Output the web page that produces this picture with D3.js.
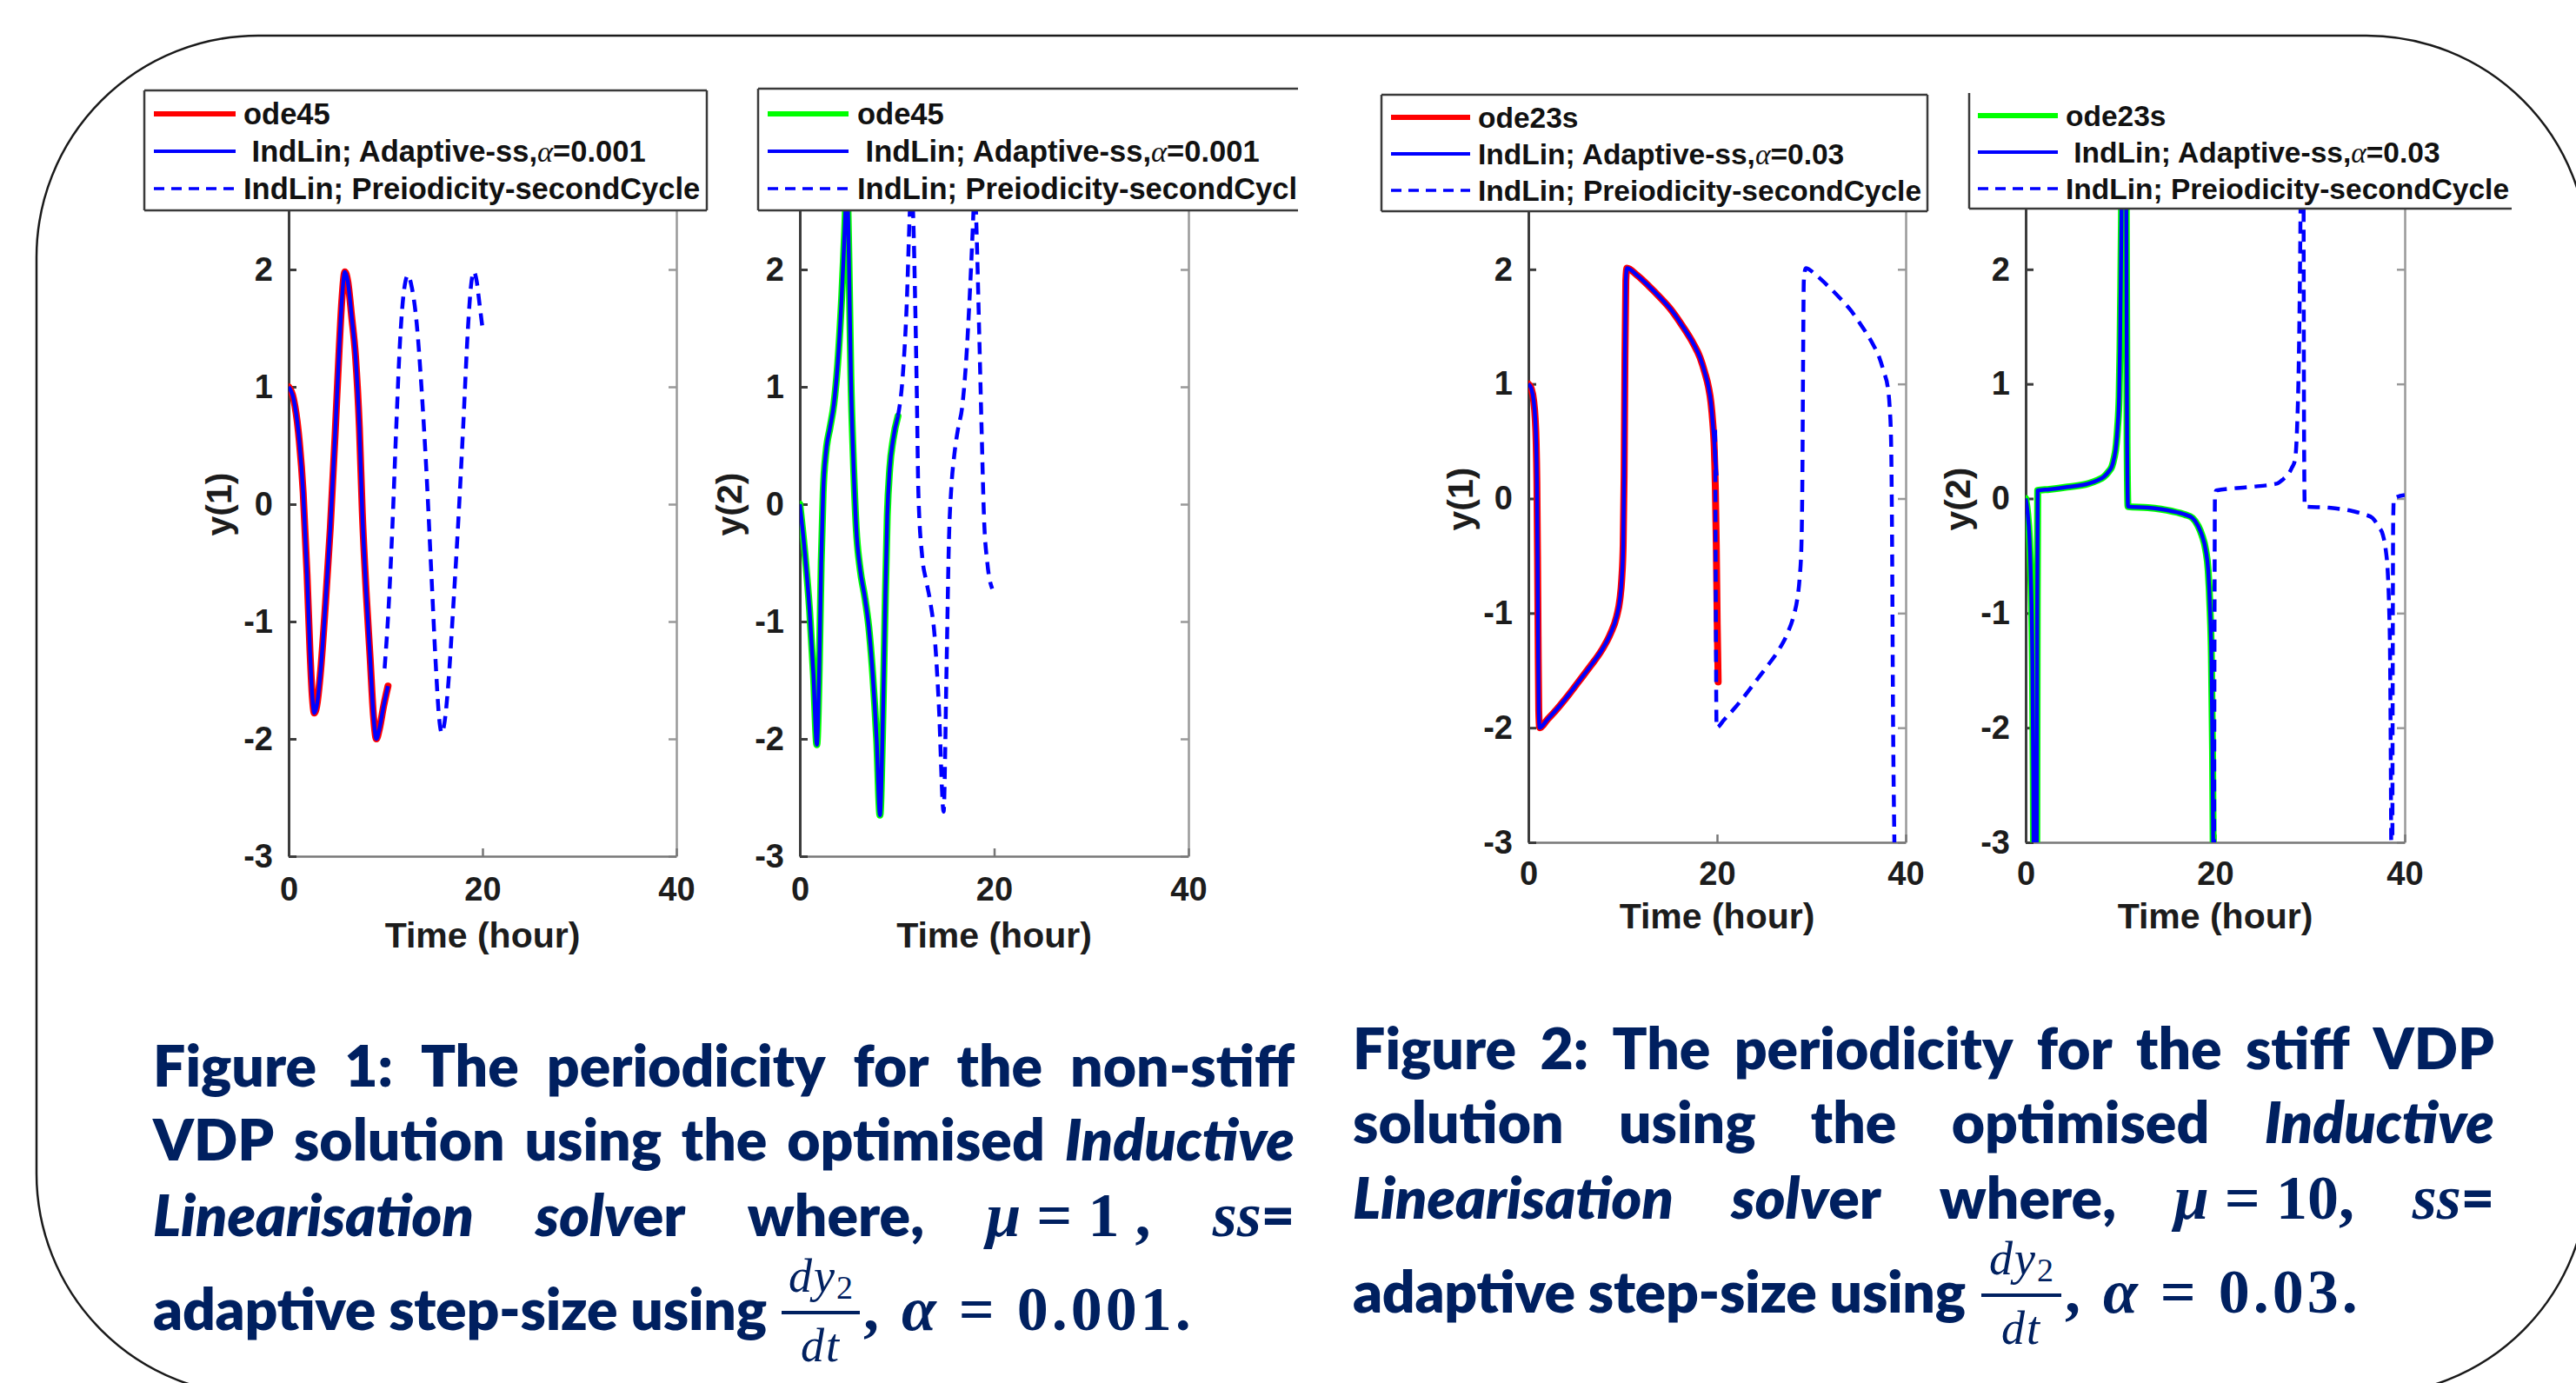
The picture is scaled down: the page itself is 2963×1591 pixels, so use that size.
<!DOCTYPE html>
<html><head><meta charset="utf-8">
<script src="https://cdn.jsdelivr.net/npm/d3@7"></script>
<style>html,body{margin:0;padding:0;background:#fff;overflow:hidden}</style>
</head><body>
<svg id="fig" width="2963" height="1591" xmlns="http://www.w3.org/2000/svg"></svg>
<script>
// ---------------- DATA ----------------
const xTicks = [0, 20, 40];
const yTicks = [-3, -2, -1, 0, 1, 2, 3];
const yTickLabels = ["-3", "-2", "-1", "0", "1", "2", ""]; // the "3" label sits under the legend
const xLabel = "Time (hour)";

// Figure 1, left panel: y(1), mu = 1  [time, value]
const fig1Y1Ode45 = [[0,1.0],[0.5,0.9],[1.0,0.62],[1.5,0.1],[1.9,-0.6],[2.2,-1.25],[2.45,-1.65],[2.65,-1.78],[2.9,-1.72],[3.3,-1.42],[3.8,-0.85],[4.3,-0.2],[4.8,0.6],[5.2,1.3],[5.5,1.75],[5.8,1.98],[6.1,1.9],[6.5,1.6],[6.9,1.26],[7.3,0.65],[7.6,-0.07],[8.0,-0.75],[8.4,-1.3],[8.75,-1.8],[9.05,-2.0],[9.35,-1.92],[9.8,-1.72],[10.25,-1.55]];
const fig1Y1IndLin = [[0,1.0],[0.5,0.9],[1.0,0.62],[1.5,0.1],[1.9,-0.6],[2.2,-1.25],[2.45,-1.65],[2.65,-1.78],[2.9,-1.72],[3.3,-1.42],[3.8,-0.85],[4.3,-0.2],[4.8,0.6],[5.2,1.3],[5.5,1.75],[5.8,1.98],[6.1,1.9],[6.5,1.6],[6.9,1.26],[7.3,0.65],[7.6,-0.07],[8.0,-0.75],[8.4,-1.3],[8.75,-1.8],[9.05,-2.0],[9.35,-1.92],[9.8,-1.72],[10.25,-1.55]];
const fig1Y1Second = [[9.9,-1.4],[10.3,-0.9],[10.7,-0.2],[11.1,0.65],[11.5,1.4],[11.9,1.82],[12.3,1.95],[12.7,1.85],[13.2,1.55],[13.7,1.0],[14.2,0.3],[14.7,-0.55],[15.2,-1.4],[15.5,-1.8],[15.8,-1.95],[16.1,-1.85],[16.5,-1.5],[17.0,-0.85],[17.5,-0.15],[18.0,0.65],[18.5,1.5],[18.8,1.85],[19.1,1.98],[19.4,1.9],[19.7,1.7],[20.0,1.5]];

// Figure 1, right panel: y(2), mu = 1
const fig1Y2Ode45 = [[0,0],[0.5,-0.4],[1.0,-0.9],[1.4,-1.45],[1.75,-2.05],[2.0,-1.4],[2.2,-0.5],[2.4,0.1],[2.7,0.45],[3.1,0.65],[3.5,0.85],[3.9,1.2],[4.3,1.75],[4.6,2.3],[4.85,2.75],[5.05,2.1],[5.25,1.1],[5.5,0.4],[5.8,-0.2],[6.2,-0.55],[6.7,-0.8],[7.1,-1.05],[7.5,-1.45],[7.9,-2.0],[8.25,-2.65],[8.5,-2.0],[8.75,-1.0],[9.0,-0.1],[9.25,0.3],[9.6,0.55],[10.1,0.75]];
const fig1Y2IndLin = [[0,0],[0.5,-0.4],[1.0,-0.9],[1.4,-1.45],[1.75,-2.05],[2.0,-1.4],[2.2,-0.5],[2.4,0.1],[2.7,0.45],[3.1,0.65],[3.5,0.85],[3.9,1.2],[4.3,1.75],[4.6,2.3],[4.85,2.75],[5.05,2.1],[5.25,1.1],[5.5,0.4],[5.8,-0.2],[6.2,-0.55],[6.7,-0.8],[7.1,-1.05],[7.5,-1.45],[7.9,-2.0],[8.25,-2.65],[8.5,-2.0],[8.75,-1.0],[9.0,-0.1],[9.25,0.3],[9.6,0.55],[10.1,0.75]];
const fig1Y2Second = [[10.1,0.75],[10.6,1.1],[11.0,1.7],[11.3,2.45],[11.45,2.75],[11.65,2.5],[11.9,1.6],[12.05,0.9],[12.2,0.1],[12.6,-0.45],[13.0,-0.65],[13.4,-0.82],[13.9,-1.15],[14.3,-1.7],[14.8,-2.62],[15.1,-1.4],[15.35,-0.3],[15.6,0.15],[15.9,0.42],[16.3,0.65],[16.7,0.82],[17.1,1.2],[17.5,1.8],[17.85,2.45],[18.0,2.75],[18.2,2.3],[18.45,1.5],[18.7,0.67],[18.95,-0.1],[19.3,-0.5],[19.8,-0.72]];

// Figure 2, left panel: y(1), mu = 10
const fig2Y1Ode23s = [[0,1.0],[0.3,0.96],[0.55,0.86],[0.72,0.7],[0.82,0.5],[0.9,0.15],[0.97,-0.5],[1.03,-1.2],[1.1,-1.85],[1.2,-2.0],[2.0,-1.93],[3.0,-1.84],[4.2,-1.72],[5.4,-1.59],[6.6,-1.46],[7.8,-1.32],[8.7,-1.18],[9.35,-1.03],[9.7,-0.88],[9.9,-0.7],[10.05,-0.4],[10.15,0.2],[10.23,1.14],[10.33,1.9],[10.45,2.01],[11.5,1.95],[12.7,1.86],[13.9,1.76],[15.1,1.65],[16.3,1.51],[17.5,1.35],[18.2,1.23],[18.7,1.1],[19.1,0.97],[19.35,0.84],[19.55,0.66],[19.7,0.45],[19.82,0.1],[19.92,-0.4],[20.02,-1.1],[20.12,-1.6]];
const fig2Y1IndLin = [[0,1.0],[0.3,0.96],[0.55,0.86],[0.72,0.7],[0.82,0.5],[0.9,0.15],[0.97,-0.5],[1.03,-1.2],[1.1,-1.85],[1.2,-2.0],[2.0,-1.93],[3.0,-1.84],[4.2,-1.72],[5.4,-1.59],[6.6,-1.46],[7.8,-1.32],[8.7,-1.18],[9.35,-1.03],[9.7,-0.88],[9.9,-0.7],[10.05,-0.4],[10.15,0.2],[10.23,1.14],[10.33,1.9],[10.45,2.01],[11.5,1.95],[12.7,1.86],[13.9,1.76],[15.1,1.65],[16.3,1.51],[17.5,1.35],[18.2,1.23],[18.7,1.1],[19.1,0.97],[19.35,0.84],[19.55,0.66],[19.7,0.5],[19.85,0.3],[19.95,0.2]];
const fig2Y1Second = [[19.8,0.6],[19.85,-0.5],[19.9,-1.5],[19.95,-2.0],[20.75,-1.93],[21.75,-1.84],[22.95,-1.72],[24.15,-1.59],[25.35,-1.46],[26.55,-1.32],[27.45,-1.18],[28.1,-1.03],[28.5,-0.88],[28.75,-0.7],[28.95,-0.4],[29.05,0.2],[29.12,1.14],[29.2,1.9],[29.4,2.01],[30.5,1.95],[31.7,1.86],[32.9,1.76],[34.1,1.65],[35.3,1.51],[36.5,1.35],[37.2,1.23],[37.7,1.1],[38.1,0.97],[38.3,0.8],[38.45,0.5],[38.55,-0.3],[38.65,-1.8],[38.8,-3.0],[38.85,-3.3]];

// Figure 2, right panel: y(2), mu = 10
const fig2Y2Ode23s = [[0,0],[0.2,-0.12],[0.4,-0.35],[0.55,-0.7],[0.7,-1.35],[0.8,-2.4],[0.87,-4],[0.95,-8],[1.05,-8],[1.15,-4],[1.22,-1],[1.27,0.07],[2.5,0.08],[4.4,0.1],[6.6,0.13],[7.6,0.16],[8.25,0.19],[8.8,0.24],[9.1,0.28],[9.35,0.36],[9.5,0.43],[9.7,0.62],[9.86,0.89],[9.95,1.3],[10.0,1.65],[10.1,2.4],[10.2,4],[10.3,8],[10.45,8],[10.6,3],[10.7,0.5],[10.8,-0.07],[12.9,-0.08],[15.4,-0.11],[16.8,-0.14],[17.6,-0.17],[18.2,-0.24],[18.6,-0.32],[19.0,-0.45],[19.26,-0.63],[19.45,-0.95],[19.6,-1.38],[19.72,-2.2],[19.8,-3.2],[19.9,-5]];
const fig2Y2IndLin = [[0,0],[0.2,-0.12],[0.4,-0.35],[0.55,-0.7],[0.7,-1.35],[0.8,-2.4],[0.87,-4],[0.95,-8],[1.05,-8],[1.15,-4],[1.22,-1],[1.27,0.07],[2.5,0.08],[4.4,0.1],[6.6,0.13],[7.6,0.16],[8.25,0.19],[8.8,0.24],[9.1,0.28],[9.35,0.36],[9.5,0.43],[9.7,0.62],[9.86,0.89],[9.95,1.3],[10.0,1.65],[10.1,2.4],[10.2,4],[10.3,8],[10.45,8],[10.6,3],[10.7,0.5],[10.8,-0.07],[12.9,-0.08],[15.4,-0.11],[16.8,-0.14],[17.6,-0.17],[18.2,-0.24],[18.6,-0.32],[19.0,-0.45],[19.26,-0.63],[19.45,-0.95],[19.6,-1.38],[19.72,-2.2],[19.8,-3.2],[19.9,-5]];
const fig2Y2Second = [[19.85,-5],[19.92,-1.5],[19.97,0.0],[20.1,0.07],[23.5,0.1],[26.5,0.13],[27.2,0.17],[27.7,0.21],[28.1,0.27],[28.4,0.33],[28.55,0.45],[28.65,0.64],[28.8,1.1],[28.9,1.65],[29.0,2.5],[29.1,4],[29.2,8],[29.3,4],[29.38,0.5],[29.45,-0.07],[32.0,-0.08],[34.5,-0.11],[35.8,-0.14],[36.6,-0.17],[37.2,-0.24],[37.7,-0.32],[38.0,-0.45],[38.2,-0.63],[38.35,-0.95],[38.45,-1.38],[38.52,-2.2],[38.58,-3.2],[38.65,-5],[38.72,-2],[38.78,-0.2],[38.85,0.0],[40.0,0.03]];

// Legend texts
const legendFig1 = [[["ode45","n"]], [["\u00a0IndLin; Adaptive-ss,","n"],["\u03b1","g"],["=0.001","n"]], [["IndLin; Preiodicity-secondCycle","n"]]];
const legendFig1b = [[["ode45","n"]], [["\u00a0IndLin; Adaptive-ss,","n"],["\u03b1","g"],["=0.001","n"]], [["IndLin; Preiodicity-secondCycle","n"]]];
const legendFig2 = [[["ode23s","n"]], [["IndLin; Adaptive-ss,","n"],["\u03b1","g"],["=0.03","n"]], [["IndLin; Preiodicity-secondCycle","n"]]];
const legendFig2b = [[["ode23s","n"]], [["\u00a0IndLin; Adaptive-ss,","n"],["\u03b1","g"],["=0.03","n"]], [["IndLin; Preiodicity-secondCycle","n"]]];

// Caption texts
const caption1Lines = [
  [[["Figure","b"]],[["1:","b"]],[["The","b"]],[["periodicity","b"]],[["for","b"]],[["the","b"]],[["non-stiff","b"]]],
  [[["VDP","b"]],[["solution","b"]],[["using","b"]],[["the","b"]],[["optimised","b"]],[["Inductive","bi"]]],
  [[["Linearisation","bi"]],[["solv","bi"],["er","b"]],[["where,","b"]],[["\u03bc","mi"],[" = 1 ,","m"]],[["ss","mi"],["=","b"]]]
];
const caption1Tail = {lead:"adaptive step-size using", num:"dy", sub:"2", den:"dt", after:[[",","m"],[" \u03b1","mi"],[" = 0.001.","m"]]};
const caption2Lines = [
  [[["Figure","b"]],[["2:","b"]],[["The","b"]],[["periodicity","b"]],[["for","b"]],[["the","b"]],[["stiff","b"]],[["VDP","b"]]],
  [[["solution","b"]],[["using","b"]],[["the","b"]],[["optimised","b"]],[["Inductive","bi"]]],
  [[["Linearisation","bi"]],[["solv","bi"],["er","b"]],[["where,","b"]],[["\u03bc","mi"],[" = 10,","m"]],[["ss","mi"],["=","b"]]]
];
const caption2Tail = {lead:"adaptive step-size using", num:"dy", sub:"2", den:"dt", after:[[",","m"],[" \u03b1","mi"],[" = 0.03.","m"]]};

// ---------------- LAYOUT / STYLE ----------------
const RED = "#ff0000", BLUE = "#0000ff", GREEN = "#00ff00", NAVY = "#002060";
const AXF = "'Liberation Sans', Arial, Helvetica, sans-serif";
const SERIF = "'Liberation Serif', 'DejaVu Serif', serif";
const CAPF = "Lato, 'Open Sans', 'Noto Sans', sans-serif";
const CAPW = 800;

const panels = [
  {xr:[332,778], yr:[985,175], ref:fig1Y1Ode45, refColor:RED, ind:fig1Y1IndLin, sec:fig1Y1Second, ylab:"y(1)", ylabX:252, ylabY:580,
   xTickPad:24, xlabBase:1090, legend:legendFig1, lg:{x:166,y:104,w:647,h:138,borders:"tlbr",clipR:null,rowTop:27,rowGap:43,l0:11,l1:105,tx:114,fs:34.5}},
  {xr:[920,1367], yr:[985,175], ref:fig1Y2Ode45, refColor:GREEN, ind:fig1Y2IndLin, sec:fig1Y2Second, ylab:"y(2)", ylabX:839, ylabY:580,
   xTickPad:24, xlabBase:1090, legend:legendFig1b, lg:{x:872,y:102,w:660,h:140,borders:"tlb",clipR:1493,rowTop:29,rowGap:43,l0:11,l1:104,tx:114,fs:34.5}},
  {xr:[1758,2192], yr:[969,178], ref:fig2Y1Ode23s, refColor:RED, ind:fig2Y1IndLin, sec:fig2Y1Second, ylab:"y(1)", ylabX:1680, ylabY:574,
   xTickPad:22, xlabBase:1068, legend:legendFig2, lg:{x:1589,y:109,w:628,h:134,borders:"tlbr",clipR:null,rowTop:26,rowGap:42,l0:11,l1:102,tx:111,fs:33.5}},
  {xr:[2330,2766], yr:[969,178], ref:fig2Y2Ode23s, refColor:GREEN, ind:fig2Y2IndLin, sec:fig2Y2Second, ylab:"y(2)", ylabX:2252, ylabY:574,
   xTickPad:22, xlabBase:1068, legend:legendFig2b, lg:{x:2265,y:107,w:624,h:133,borders:"lb",clipR:null,rowTop:26,rowGap:42,l0:10,l1:102,tx:111,fs:33.5}}
];

const svg = d3.select("#fig");
const defs = svg.append("defs");
svg.append("rect").attr("width",2963).attr("height",1591).attr("fill","#fff");
svg.append("rect").attr("x",42).attr("y",41).attr("width",2935).attr("height",1564)
  .attr("rx",255).attr("ry",255).attr("fill","none").attr("stroke","#1a1a1a").attr("stroke-width",2.5);

panels.forEach((p, i) => {
  const x = d3.scaleLinear().domain([0,40]).range(p.xr);
  const y = d3.scaleLinear().domain([-3,3]).range(p.yr);
  const g = svg.append("g");
  const cid = "clip" + i;
  defs.append("clipPath").attr("id", cid).append("rect")
    .attr("x", p.xr[0]).attr("y", p.yr[1]).attr("width", p.xr[1]-p.xr[0]).attr("height", p.yr[0]-p.yr[1]);

  const styleAxis = (sel, color, w) => {
    sel.select(".domain").attr("stroke", color).attr("stroke-width", w);
    sel.selectAll(".tick line").attr("stroke", color).attr("stroke-width", w);
    sel.selectAll(".tick text").attr("fill","#1c1c1c").attr("font-family",AXF).attr("font-weight","bold").attr("font-size",38);
  };
  const yFmt = d => yTickLabels[yTicks.indexOf(d)];
  g.append("g").attr("transform",`translate(0,${p.yr[1]})`)
    .call(d3.axisTop(x).tickValues(xTicks).tickSizeInner(-9).tickSizeOuter(0).tickFormat(""))
    .call(s => styleAxis(s, "#888", 2.5));
  g.append("g").attr("transform",`translate(${p.xr[1]},0)`)
    .call(d3.axisRight(y).tickValues(yTicks).tickSizeInner(-9).tickSizeOuter(0).tickFormat(""))
    .call(s => styleAxis(s, "#999", 2.5));
  g.append("g").attr("transform",`translate(0,${p.yr[0]})`)
    .call(d3.axisBottom(x).tickValues(xTicks).tickSizeInner(-9).tickSizeOuter(0).tickPadding(p.xTickPad).tickFormat(d => String(d)))
    .call(s => styleAxis(s, "#777", 2.5));
  g.append("g").attr("transform",`translate(${p.xr[0]},0)`)
    .call(d3.axisLeft(y).tickValues(yTicks).tickSizeInner(-9).tickSizeOuter(0).tickPadding(18).tickFormat(yFmt))
    .call(s => styleAxis(s, "#3c3c3c", 3));

  const line = d3.line().x(d => x(d[0])).y(d => y(d[1])).curve(d3.curveMonotoneX);
  const lg = g.append("g").attr("clip-path", `url(#${cid})`);
  lg.append("path").datum(p.ref).attr("d", line).attr("fill","none").attr("stroke", p.refColor)
    .attr("stroke-width", 8).attr("stroke-linejoin","round").attr("stroke-linecap","round");
  lg.append("path").datum(p.ind).attr("d", line).attr("fill","none").attr("stroke", BLUE)
    .attr("stroke-width", 4.5).attr("stroke-linejoin","round");
  lg.append("path").datum(p.sec).attr("d", line).attr("fill","none").attr("stroke", BLUE)
    .attr("stroke-width", 4.5).attr("stroke-dasharray","14,9");

  g.append("text").attr("x", (p.xr[0]+p.xr[1])/2).attr("y", p.xlabBase).attr("text-anchor","middle")
    .attr("font-family",AXF).attr("font-weight","bold").attr("font-size",41).attr("fill","#1c1c1c").text(xLabel);
  g.append("text").attr("transform",`translate(${p.ylabX},${p.ylabY}) rotate(-90)`).attr("text-anchor","middle")
    .attr("dominant-baseline","central").attr("font-family",AXF).attr("font-weight","bold").attr("font-size",41)
    .attr("fill","#1c1c1c").text(p.ylab);

  // legend
  const L = p.lg;
  const leg = svg.append("g");
  if (L.clipR) {
    const lid = "lclip" + i;
    defs.append("clipPath").attr("id", lid).append("rect").attr("x", L.x-5).attr("y", L.y-5).attr("width", L.clipR-L.x+5).attr("height", L.h+10);
    leg.attr("clip-path", `url(#${lid})`);
  }
  leg.append("rect").attr("x",L.x).attr("y",L.y).attr("width",L.w).attr("height",L.h).attr("fill","#fff");
  const bc = "#3a3a3a";
  const edges = {t:[L.x,L.y,L.x+L.w,L.y], l:[L.x,L.y,L.x,L.y+L.h], b:[L.x,L.y+L.h,L.x+L.w,L.y+L.h], r:[L.x+L.w,L.y,L.x+L.w,L.y+L.h]};
  L.borders.split("").forEach(k => {
    const e = edges[k];
    leg.append("line").attr("x1",e[0]).attr("y1",e[1]).attr("x2",e[2]).attr("y2",e[3]).attr("stroke",bc).attr("stroke-width",2.5);
  });
  const samples = [{c:p.refColor,w:6,d:null},{c:BLUE,w:4,d:null},{c:BLUE,w:3.5,d:"12,8"}];
  p.legend.forEach((row, r) => {
    const cy = L.y + L.rowTop + r*L.rowGap;
    leg.append("line").attr("x1",L.x+L.l0).attr("x2",L.x+L.l1).attr("y1",cy).attr("y2",cy)
      .attr("stroke",samples[r].c).attr("stroke-width",samples[r].w).attr("stroke-dasharray",samples[r].d);
    const t = leg.append("text").attr("x",L.x+L.tx).attr("y",cy).attr("dominant-baseline","central")
      .attr("font-family",AXF).attr("font-weight","bold").attr("font-size",L.fs).attr("fill","#111")
      .style("white-space","pre");
    row.forEach(([s,k]) => {
      const sp = t.append("tspan").text(s);
      if (k === "g") sp.attr("font-family",SERIF).attr("font-style","italic").attr("font-weight","normal");
    });
  });
});

// ---------------- CAPTIONS ----------------
const capStyles = {
  b:{f:CAPF, w:CAPW, s:"normal", z:66},
  bi:{f:CAPF, w:CAPW, s:"italic", z:66},
  m:{f:SERIF, w:700, s:"normal", z:72},
  mi:{f:SERIF, w:700, s:"italic", z:72}
};
function makeToken(parent, tok, x, y) {
  const t = parent.append("text").attr("x",x).attr("y",y).attr("fill",NAVY).style("white-space","pre");
  tok.forEach(([s,k]) => {
    const st = capStyles[k];
    t.append("tspan").text(s).attr("font-family",st.f).attr("font-weight",st.w).attr("font-style",st.s).attr("font-size",st.z);
  });
  return t;
}
function drawCaption(lines, tail, cfg) {
  const g = svg.append("g");
  lines.forEach((line, li) => {
    const yb = cfg.base[li];
    const toks = line.map(tok => makeToken(g, tok, 0, yb));
    const widths = toks.map(t => t.node().getComputedTextLength());
    const total = d3.sum(widths);
    const gap = (cfg.R - cfg.L - total) / (toks.length - 1);
    let cx = cfg.L;
    toks.forEach((t, k) => { t.attr("x", cx); cx += widths[k] + gap; });
  });
  const yb = cfg.base[3];
  g.append("text").attr("x",cfg.L).attr("y",yb).attr("fill",NAVY).attr("font-family",CAPF).attr("font-weight",CAPW)
    .attr("font-size",66).attr("textLength",cfg.leadW).attr("lengthAdjust","spacing").text(tail.lead);
  const fx = cfg.fracL, fw = cfg.fracW, fc = fx + fw/2;
  g.append("line").attr("x1",fx).attr("x2",fx+fw).attr("y1",yb-20).attr("y2",yb-20).attr("stroke",NAVY).attr("stroke-width",4);
  const num = g.append("text").attr("x",fc).attr("y",yb-44).attr("text-anchor","middle").attr("fill",NAVY)
    .attr("font-family",SERIF).attr("font-style","italic").attr("font-size",54);
  num.append("tspan").text(tail.num).attr("letter-spacing",2);
  num.append("tspan").text(tail.sub).attr("font-style","normal").attr("font-size",38).attr("dy",8);
  g.append("text").attr("x",fc).attr("y",yb+36).attr("text-anchor","middle").attr("fill",NAVY)
    .attr("font-family",SERIF).attr("font-style","italic").attr("font-size",54).attr("letter-spacing",2).text(tail.den);
  const aft = makeToken(g, tail.after, fx + fw + 4, yb);
  aft.attr("letter-spacing",4);
}
drawCaption(caption1Lines, caption1Tail, {L:176, R:1489, base:[1250,1335,1422,1530], leadW:706, fracL:899, fracW:90});
drawCaption(caption2Lines, caption2Tail, {L:1556, R:2869, base:[1230,1315,1402,1510], leadW:705, fracL:2279, fracW:92});
</script>
</body></html>
